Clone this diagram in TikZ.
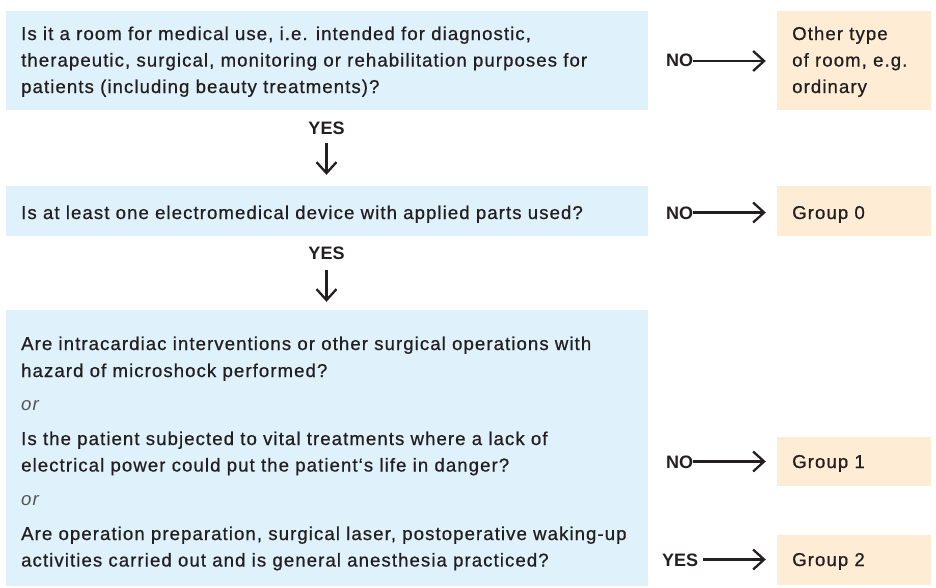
\documentclass[tikz,border=0pt]{standalone}
\usepackage{fontspec}
\setmainfont{Liberation Sans}
\newfontfamily\medfont{Liberation Sans}[LetterSpace=5.8,FakeBold=0.7,UprightFeatures={FakeBold=0.7}]
\newfontfamily\orfont{Liberation Sans}[LetterSpace=5.8]
\usetikzlibrary{arrows.meta}
\definecolor{qblue}{RGB}{223,241,251}
\definecolor{aorange}{RGB}{254,236,212}
\definecolor{ink}{RGB}{35,31,32}
\definecolor{orgray}{RGB}{85,85,85}
\tikzset{
  box/.style={rectangle, draw=none, inner sep=0pt},
  qbox/.style={box, fill=qblue},
  abox/.style={box, fill=aorange, minimum width=154pt},
  txt/.style={anchor=base west, inner sep=0pt, text=ink, font=\medfont\fontsize{18.6}{26}\selectfont},
  ortxt/.style={anchor=base west, inner sep=0pt, text=orgray, font=\orfont\fontsize{18.6}{26}\selectfont\itshape},
  lbl/.style={inner sep=0pt, text=ink, font=\fontsize{18}{26}\selectfont\bfseries},
  flow/.style={draw=ink, line width=2.3pt, -{Straight Barb[length=11pt,width=20pt,line width=2.3pt]}},
}
\begin{document}
\begin{tikzpicture}[x=1pt,y=-1pt]
\useasboundingbox (0,0) rectangle (936,587);
% boxes
\node[qbox, minimum width=642pt, minimum height=99pt] (qa) at (327,60.5) {};
\node[abox, minimum height=99pt] (ra) at (854,60.5) {};
\node[qbox, minimum width=642pt, minimum height=50pt] (qb) at (327,211) {};
\node[abox, minimum height=50pt] (r0) at (854,211) {};
\node[qbox, minimum width=642pt, minimum height=276pt] (qc) at (327,448) {};
\node[abox, minimum height=49pt] (r1) at (854,461) {};
\node[abox, minimum height=50pt] (r2) at (854,560) {};
% question texts
\node[txt] (a1) at (21,40) {Is it a room for medical use, i.e. intended for diagnostic,};
\node[txt] (a2) at (21,66.5) {therapeutic, surgical, monitoring or rehabilitation purposes for};
\node[txt] (a3) at (21,93) {patients (including beauty treatments)?};
\node[txt] (b1) at (21,219) {Is at least one electromedical device with applied parts used?};
\node[txt] (c1) at (21,350) {Are intracardiac interventions or other surgical operations with};
\node[txt] (c2) at (21,377) {hazard of microshock performed?};
\node[ortxt] (o1) at (21,410.5) {or};
\node[txt] (c3) at (21,445) {Is the patient subjected to vital treatments where a lack of};
\node[txt] (c4) at (21,471.5) {electrical power could put the patient‘s life in danger?};
\node[ortxt] (o2) at (21,505) {or};
\node[txt] (c5) at (21,540) {Are operation preparation, surgical laser, postoperative waking-up};
\node[txt] (c6) at (21,566.5) {activities carried out and is general anesthesia practiced?};
% answer texts
\node[txt] (ra1) at (792,40) {Other type};
\node[txt] (ra2) at (792,66.5) {of room, e.g.};
\node[txt] (ra3) at (792,93) {ordinary};
\node[txt] (g0) at (792,219) {Group 0};
\node[txt] (g1) at (792,468) {Group 1};
\node[txt] (g2) at (792,566) {Group 2};
% labels
\node[lbl, anchor=base west] (noa) at (666,66.7) {NO};
\node[lbl, anchor=base west] (nob) at (666,219) {NO};
\node[lbl, anchor=base west] (noc) at (666,468) {NO};
\node[lbl, anchor=base west] (yesc) at (662,566) {YES};
\node[lbl, anchor=base] (yesa) at (326.5,134) {YES};
\node[lbl, anchor=base] (yesb) at (326.5,259) {YES};
% connectors
\draw[flow, shorten >=11pt] (noa.east |- 0,61) -- (ra.west |- 0,61);
\draw[flow, shorten >=11pt] (nob.east |- 0,212.5) -- (r0.west |- 0,212.5);
\draw[flow, shorten >=11pt] (noc.east |- 0,461.5) -- (r1.west |- 0,461.5);
\draw[flow, shorten <=5pt, shorten >=11pt] (yesc.east |- 0,559.5) -- (r2.west |- 0,559.5);
\draw[flow, shorten <=9pt, shorten >=11pt] (yesa.base) -- (yesa.base |- qb.north);
\draw[flow, shorten <=11pt, shorten >=8pt] (yesb.base) -- (yesb.base |- qc.north);
\end{tikzpicture}
\end{document}
